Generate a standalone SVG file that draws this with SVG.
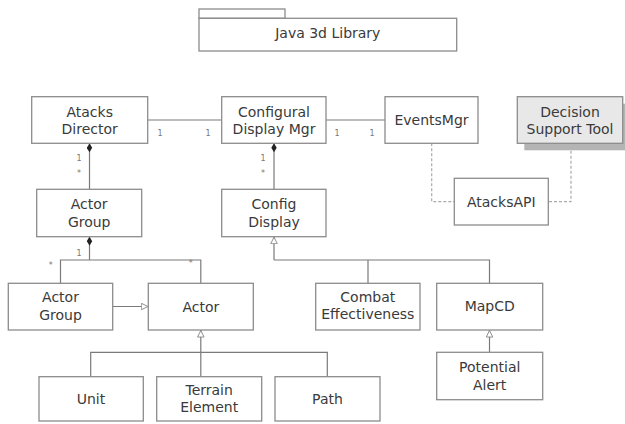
<svg xmlns="http://www.w3.org/2000/svg" width="625" height="424" viewBox="0 0 625 424">
<style>
.box{fill:#fff;stroke:#8c8c8c;stroke-width:1.3}
.t{font-family:"DejaVu Sans",Verdana,sans-serif;font-size:14px;fill:#3a3a3a;text-anchor:middle}
.m{font-family:"DejaVu Sans",sans-serif;font-size:8px;fill:#777;text-anchor:middle}
.ln{fill:none;stroke:#7a7a7a;stroke-width:1.2}
.dash{fill:none;stroke:#aaa;stroke-width:1.2;stroke-dasharray:3 2}
</style>
<defs>
<marker id="dia" viewBox="0 0 10 6" refX="10" refY="3" markerWidth="9" markerHeight="6" markerUnits="userSpaceOnUse" orient="auto">
<path d="M0,3 L5,0 L10,3 L5,6 Z" fill="#222"/>
</marker>
<marker id="tri" viewBox="0 0 8 8" refX="8" refY="4" markerWidth="7.5" markerHeight="8" markerUnits="userSpaceOnUse" orient="auto">
<path d="M0.5,0.5 L7.5,4 L0.5,7.5 Z" fill="#fff" stroke="#888" stroke-width="1"/>
</marker>
</defs>
<rect width="625" height="424" fill="#fff"/>

<g id="java3d">
<rect class="box" x="199" y="9" width="86" height="9.3"/>
<rect class="box" x="199" y="18.3" width="257.7" height="32.7"/>
<text class="t" x="327.8" y="38.3">Java 3d Library</text>
</g>

<g id="connectors">
<path class="ln" d="M147.7,120 H221.7"/>
<path class="ln" d="M326,120 H385"/>
<path class="ln" d="M89.5,189.3 V143.3" marker-end="url(#dia)"/>
<path class="ln" d="M274,189.3 V143.3" marker-end="url(#dia)"/>
<path class="ln" d="M89.5,260 V236.7" marker-end="url(#dia)"/>
<path class="ln" d="M60.5,283.3 V260 H200.8 V283.3"/>
<path class="ln" d="M112.7,306.5 H148.3" marker-end="url(#tri)"/>
<path class="ln" d="M274,260 V236.7" marker-end="url(#tri)"/>
<path class="ln" d="M274,260 H489.5 V283.3 M368,260 V283.3"/>
<path class="ln" d="M200.8,352.3 V330" marker-end="url(#tri)"/>
<path class="ln" d="M90.7,376.7 V352.3 H327.3 V376.7 M200.8,352.3 V376.7"/>
<path class="ln" d="M489.5,352.3 V330" marker-end="url(#tri)"/>
<path class="dash" d="M431.7,143.3 V201.7 H454.3"/>
<path class="dash" d="M571,150.7 V201.7 H548.3"/>
<text class="m" x="160" y="136">1</text>
<text class="m" x="208" y="136">1</text>
<text class="m" x="337" y="136">1</text>
<text class="m" x="372" y="136">1</text>
<text class="m" x="79" y="161">1</text>
<text class="m" x="79" y="176">*</text>
<text class="m" x="263" y="161">1</text>
<text class="m" x="263" y="176">*</text>
<text class="m" x="79" y="256">1</text>
<text class="m" x="50.7" y="268">*</text>
<text class="m" x="190.7" y="266">*</text>
</g>

<g id="atacks-director">
<rect class="box" x="31.7" y="96.7" width="116" height="46.6"/>
<text class="t" x="89.7" y="116.7">Atacks</text>
<text class="t" x="89.7" y="134">Director</text>
</g>
<g id="configural-display-mgr">
<rect class="box" x="221.7" y="96.7" width="104.3" height="46.6"/>
<text class="t" x="274" y="116.7">Configural</text>
<text class="t" x="274" y="134.3">Display Mgr</text>
</g>
<g id="events-mgr">
<rect class="box" x="385" y="96.7" width="93" height="46.6"/>
<text class="t" x="431.5" y="125">EventsMgr</text>
</g>
<g id="decision-support-tool">
<rect x="524.3" y="103.7" width="105.4" height="46.6" fill="#b4b4b4"/>
<rect x="517.3" y="96.7" width="105.4" height="46.6" fill="#e8e8e8" stroke="#8c8c8c" stroke-width="1.3"/>
<text class="t" x="570" y="116.7">Decision</text>
<text class="t" x="570" y="134.3">Support Tool</text>
</g>
<g id="actor-group-1">
<rect class="box" x="36.7" y="189.3" width="105" height="47.4"/>
<text class="t" x="89.2" y="209">Actor</text>
<text class="t" x="89.2" y="226.7">Group</text>
</g>
<g id="config-display">
<rect class="box" x="221.7" y="189.3" width="104.3" height="47.4"/>
<text class="t" x="274" y="209">Config</text>
<text class="t" x="274" y="226.7">Display</text>
</g>
<g id="atacks-api">
<rect class="box" x="454.3" y="178.3" width="94" height="46.7"/>
<text class="t" x="501.3" y="206.7">AtacksAPI</text>
</g>
<g id="actor-group-2">
<rect class="box" x="8.3" y="283.3" width="104.4" height="46.7"/>
<text class="t" x="60.5" y="301.7">Actor</text>
<text class="t" x="60.5" y="319.7">Group</text>
</g>
<g id="actor">
<rect class="box" x="148.3" y="283.3" width="105" height="46.7"/>
<text class="t" x="200.8" y="311.5">Actor</text>
</g>
<g id="combat-effectiveness">
<rect class="box" x="315.7" y="283.3" width="104.3" height="46.7"/>
<text class="t" x="367.8" y="302.3">Combat</text>
<text class="t" x="367.8" y="319">Effectiveness</text>
</g>
<g id="mapcd">
<rect class="box" x="436.7" y="283.3" width="106" height="46.7"/>
<text class="t" x="489.7" y="310.7">MapCD</text>
</g>
<g id="potential-alert">
<rect class="box" x="436.7" y="352.3" width="106" height="47.4"/>
<text class="t" x="489.7" y="372.3">Potential</text>
<text class="t" x="489.7" y="390">Alert</text>
</g>
<g id="unit">
<rect class="box" x="39" y="376.7" width="104.3" height="44.3"/>
<text class="t" x="91" y="404">Unit</text>
</g>
<g id="terrain-element">
<rect class="box" x="156.7" y="376.7" width="105" height="44.3"/>
<text class="t" x="209.2" y="394.7">Terrain</text>
<text class="t" x="209.2" y="412.3">Element</text>
</g>
<g id="path">
<rect class="box" x="275" y="376.7" width="105" height="44.3"/>
<text class="t" x="327.5" y="404">Path</text>
</g>
</svg>
